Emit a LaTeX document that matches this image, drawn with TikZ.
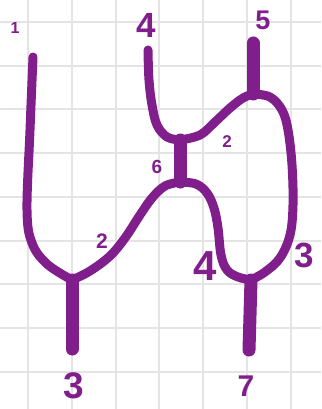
\documentclass[tikz,border=0pt]{standalone}
\usepackage{fontspec}
\setmainfont{Liberation Sans}
\definecolor{strandcol}{RGB}{128,30,140}
\definecolor{gridcol}{RGB}{228,228,228}

\begin{document}
\begin{tikzpicture}[x=1pt,y=-1pt,
    strand/.style={draw=strandcol,line width=9pt,line cap=round,line join=round},
    leg/.style={draw=strandcol,line width=13pt,line cap=round},
    lbl/.style={text=strandcol,inner sep=0pt,font=\bfseries\fontsize{#1}{#1}\selectfont}]
    \useasboundingbox (0,0) rectangle (321,409);
    \fill[white] (0,0) rectangle (321,409);
    % grid
    \foreach \gx in {28.3,72,115.7,159.4,203.1,246.8,290.5}
        \draw[gridcol,line width=2pt] (\gx,0) -- (\gx,409);
    \foreach \gy in {22,65.7,109.4,153.1,196.8,240.5,284.2,327.9,371.6}
        \draw[gridcol,line width=2pt] (0,\gy) -- (321,\gy);
    % ends and junctions
    \path coordinate (e1) at (33,57);
    \path coordinate (j1) at (72,280);
    \path coordinate (e3) at (72,349);
    \path coordinate (e4) at (148,50);
    \path coordinate (ht) at (180,140);
    \path coordinate (hb) at (180,182);
    \path coordinate (j5) at (253,94);
    \path coordinate (e5) at (253,43);
    \path coordinate (j7) at (251,280);
    \path coordinate (e7) at (249,350);
    % strands
    \draw[strand] plot[smooth,tension=0.6] coordinates {(e1) (30,130) (27,210) (32,243) (47,264) (j1)};
    \draw[strand] plot[smooth,tension=0.6] coordinates {(j1) (90,271) (110,256) (125,238) (140,215) (152,198) (165,186) (hb)};
    \draw[strand] plot[smooth,tension=0.6] coordinates {(hb) (196,184) (207,193) (214,208) (218,228) (221,255) (227,270) (238,277) (j7)};
    \draw[strand] plot[smooth,tension=0.6] coordinates {(e4) (149,80) (152,105) (157,125) (167,137) (ht)};
    \draw[strand] plot[smooth,tension=0.6] coordinates {(ht) (200,135) (215,122) (230,108) (243,98) (j5)};
    \draw[strand] plot[smooth,tension=0.6] coordinates {(j5) (270,97) (282,110) (288,130) (292,165) (293,205) (290,235) (280,258) (265,272) (j7)};
    \draw[leg] (ht) -- (hb);
    \draw[leg] (j1) -- (e3);
    \draw[leg] (j5) -- (e5);
    \draw[leg] (j7) -- (e7);
    % labels
    \node[lbl=16] (n1) at (15,28) {1};
    \node[lbl=35] (n4a) at (146,25) {4};
    \node[lbl=27] (n5) at (263,20) {5};
    \node[lbl=17] (n2a) at (227,142) {2};
    \node[lbl=19] (n6) at (157,167) {6};
    \node[lbl=21] (n2b) at (102,241) {2};
    \node[lbl=42] (n4b) at (205,266) {4};
    \node[lbl=35] (n3a) at (304,255) {3};
    \node[lbl=37] (n3b) at (74,386) {3};
    \node[lbl=30] (n7) at (246,386) {7};
\end{tikzpicture}
\end{document}
